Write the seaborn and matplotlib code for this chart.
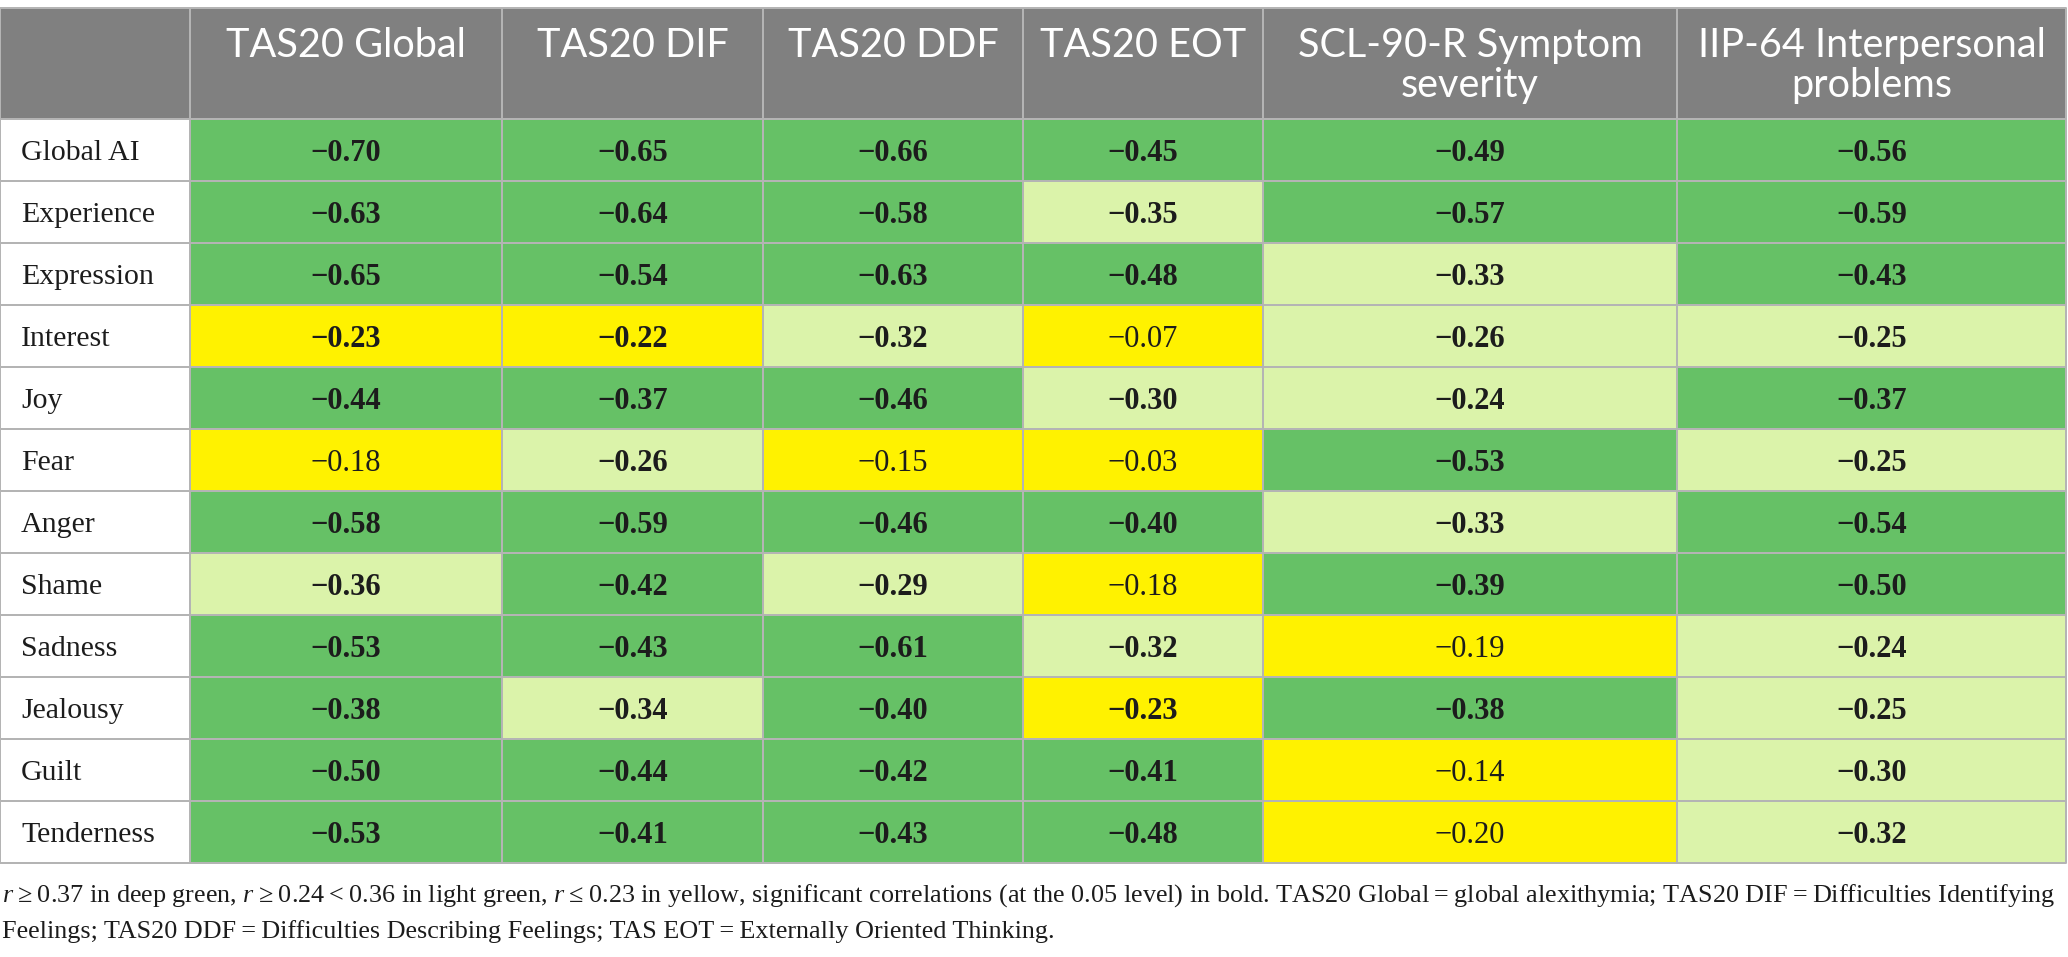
import numpy as np
import matplotlib
matplotlib.use("Agg")
import matplotlib.pyplot as plt
from matplotlib.colors import ListedColormap, BoundaryNorm
from matplotlib.patches import Rectangle
import seaborn as sns

rows = ["Global AI", "Experience", "Expression", "Interest", "Joy", "Fear",
        "Anger", "Shame", "Sadness", "Jealousy", "Guilt", "Tenderness"]
columns = ["TAS20 Global", "TAS20 DIF", "TAS20 DDF", "TAS20 EOT",
           "SCL-90-R Symptom\nseverity", "IIP-64 Interpersonal\nproblems"]

tas_global = [-0.70, -0.63, -0.65, -0.23, -0.44, -0.18, -0.58, -0.36, -0.53, -0.38, -0.50, -0.53]
tas_dif = [-0.65, -0.64, -0.54, -0.22, -0.37, -0.26, -0.59, -0.42, -0.43, -0.34, -0.44, -0.41]
tas_ddf = [-0.66, -0.58, -0.63, -0.32, -0.46, -0.15, -0.46, -0.29, -0.61, -0.40, -0.42, -0.43]
tas_eot = [-0.45, -0.35, -0.48, -0.07, -0.30, -0.03, -0.40, -0.18, -0.32, -0.23, -0.41, -0.48]
scl_90 = [-0.49, -0.57, -0.33, -0.26, -0.24, -0.53, -0.33, -0.39, -0.19, -0.38, -0.14, -0.20]
iip_64 = [-0.56, -0.59, -0.43, -0.25, -0.37, -0.25, -0.54, -0.50, -0.24, -0.25, -0.30, -0.32]

# 1 = significant at the 0.05 level (printed in bold)
sig_global = [1, 1, 1, 1, 1, 0, 1, 1, 1, 1, 1, 1]
sig_dif = [1, 1, 1, 1, 1, 1, 1, 1, 1, 1, 1, 1]
sig_ddf = [1, 1, 1, 1, 1, 0, 1, 1, 1, 1, 1, 1]
sig_eot = [1, 1, 1, 0, 1, 0, 1, 0, 1, 1, 1, 1]
sig_scl = [1, 1, 1, 1, 1, 1, 1, 1, 0, 1, 0, 0]
sig_iip = [1, 1, 1, 1, 1, 1, 1, 1, 1, 1, 1, 1]

values = [tas_global, tas_dif, tas_ddf, tas_eot, scl_90, iip_64]
signif = [sig_global, sig_dif, sig_ddf, sig_eot, sig_scl, sig_iip]

footnote = [
    "$r$\u2009\u2265\u20090.37 in deep green, $r$\u2009\u2265\u20090.24\u2009<\u20090.36 in light green, "
    "$r$\u2009\u2264\u20090.23 in yellow, significant correlations (at the 0.05 level) in bold. "
    "TAS20 Global\u2009=\u2009global alexithymia; TAS20 DIF\u2009=\u2009Difficulties Identifying",
    "Feelings; TAS20 DDF\u2009=\u2009Difficulties Describing Feelings; "
    "TAS EOT\u2009=\u2009Externally Oriented Thinking.",
]

# ---- styling ----
W, H = 2068, 957
deep, light, yellow = "#66c166", "#dbf3aa", "#fff200"
header_grey = "#808080"
line_col = "#b4b4b4"
ink = "#1c1c1c"
serif = ["Liberation Serif", "DejaVu Serif"]

sns.set_theme(style="white")
plt.rcParams["font.family"] = serif
plt.rcParams["mathtext.fontset"] = "custom"
plt.rcParams["mathtext.rm"] = "Liberation Serif"
plt.rcParams["mathtext.it"] = "Liberation Serif:italic"

col_edges = [0, 190, 502, 763, 1023, 1263, 1677, 2066]
top, head_bot, row_h = 8, 119, 62
body_bot = head_bot + row_h * len(rows)
lw = 1.44

fig = plt.figure(figsize=(W / 100, H / 100), dpi=100)

cmap = ListedColormap([yellow, light, deep])
norm = BoundaryNorm([0, 0.235, 0.365, 1.0], 3)

for j, (vals, sig) in enumerate(zip(values, signif)):
    x0, x1 = col_edges[j + 1], col_edges[j + 2]
    ax = fig.add_axes([x0 / W, 1 - body_bot / H, (x1 - x0) / W, (body_bot - head_bot) / H])
    arr = np.abs(np.array(vals)).reshape(-1, 1)
    labels = np.array([f"{v:.2f}".replace("-", "\u2212") for v in vals]).reshape(-1, 1)
    sns.heatmap(arr, ax=ax, cmap=cmap, norm=norm, cbar=False,
                annot=labels, fmt="",
                annot_kws={"fontsize": 22, "color": ink, "va": "center_baseline"},
                linewidths=lw, linecolor=line_col,
                xticklabels=False, yticklabels=False)
    for t, s in zip(ax.texts, sig):
        t.set_fontweight("bold" if s else "normal")
        t.set_fontfamily(serif)

# overlay in pixel coordinates for header, label column and borders
ov = fig.add_axes([0, 0, 1, 1], zorder=5)
ov.set_xlim(0, W)
ov.set_ylim(H, 0)
ov.set_axis_off()
ov.patch.set_alpha(0)

ov.add_patch(Rectangle((0, top), col_edges[-1], head_bot - top, facecolor=header_grey, edgecolor="none"))
for x in col_edges:
    ov.plot([x, x], [top, body_bot], color=line_col, lw=lw, solid_capstyle="butt")
ov.plot([0, col_edges[-1]], [top, top], color=line_col, lw=lw)
ov.plot([0, col_edges[-1]], [head_bot, head_bot], color=line_col, lw=lw)
ov.plot([0, col_edges[-1]], [body_bot, body_bot], color=line_col, lw=lw)
for i in range(1, len(rows)):
    y = head_bot + i * row_h
    ov.plot([0, col_edges[1]], [y, y], color=line_col, lw=lw)

for j, name in enumerate(columns):
    cx = (col_edges[j + 1] + col_edges[j + 2]) / 2
    for k, part in enumerate(name.split("\n")):
        ov.text(cx, 57 + 40 * k, part, ha="center", va="baseline", color="white",
                fontsize=28.5, fontfamily=["Lato", "DejaVu Sans"])

for i, name in enumerate(rows):
    ov.text(21, head_bot + row_h * (i + 0.5), name, ha="left", va="center_baseline",
            color=ink, fontsize=21.5)

notes = [ov.text(2, 902 + 36 * k, line, ha="left", va="baseline", color=ink, fontsize=16)
         for k, line in enumerate(footnote)]
renderer = fig.canvas.get_renderer()
w0 = notes[0].get_window_extent(renderer).width
fs = 16 * 2053 / w0
for t in notes:
    t.set_fontsize(fs)

fig.savefig("out.png", dpi=100)
